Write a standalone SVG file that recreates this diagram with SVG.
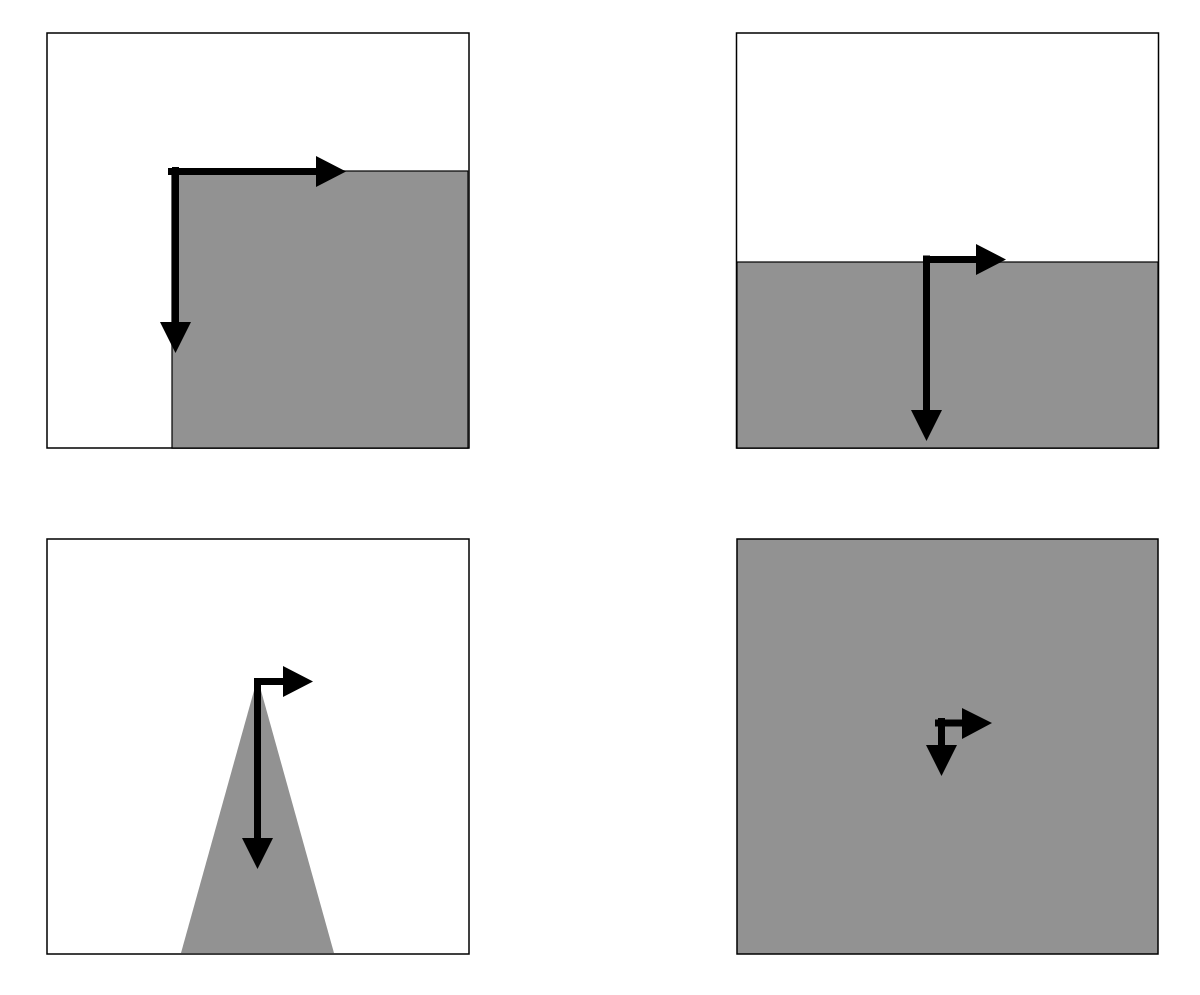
<svg xmlns="http://www.w3.org/2000/svg" width="1200" height="995" viewBox="0 0 1200 995">
<style>
.frame{fill:#ffffff;stroke:#000;stroke-width:1.5}
.shade{fill:#929292;stroke:#000;stroke-width:1.2}
.tri{fill:#929292;stroke:none}
.bar{fill:#000}
.head{fill:#000}
</style>
<rect x="0" y="0" width="1200" height="995" fill="#ffffff"/>
<g id="panel1">
<rect class="frame" x="47" y="33" width="422" height="415"/>
<rect class="shade" x="172" y="171" width="296" height="277"/>
</g>
<g id="panel2">
<rect class="frame" x="736.5" y="33" width="422" height="415"/>
<rect class="shade" x="737" y="262" width="421" height="186"/>
</g>
<g id="panel3">
<rect class="frame" x="47" y="539" width="422" height="415"/>
<polygon class="tri" points="257.5,678 334,953 181,953"/>
</g>
<g id="panel4">
<rect class="frame" x="737" y="539" width="421" height="415" style="fill:#929292"/>
</g>
<g id="connectors">
<!-- panel 1 -->
<rect class="bar" x="168" y="168" width="149" height="7"/>
<polygon class="head" points="316,156 346,171.5 316,187"/>
<rect class="bar" x="172" y="167" width="7" height="156"/>
<polygon class="head" points="160,322 191,322 175.5,353"/>
<!-- panel 2 -->
<rect class="bar" x="923" y="256" width="54" height="7"/>
<polygon class="head" points="976,244 1006,259.5 976,275"/>
<rect class="bar" x="923" y="255.5" width="7" height="155"/>
<polygon class="head" points="911,410 942,410 926.5,441"/>
<!-- panel 3 -->
<rect class="bar" x="254.5" y="678" width="29" height="7"/>
<polygon class="head" points="283,666 313,681.5 283,697"/>
<rect class="bar" x="254" y="678" width="7" height="161"/>
<polygon class="head" points="242,838 273,838 257.5,869"/>
<!-- panel 4 -->
<rect class="bar" x="935" y="719.5" width="28" height="7"/>
<polygon class="head" points="962,708 992,723 962,739"/>
<rect class="bar" x="938" y="718" width="7" height="28"/>
<polygon class="head" points="926,745 957,745 941.5,776"/>
</g>
</svg>
